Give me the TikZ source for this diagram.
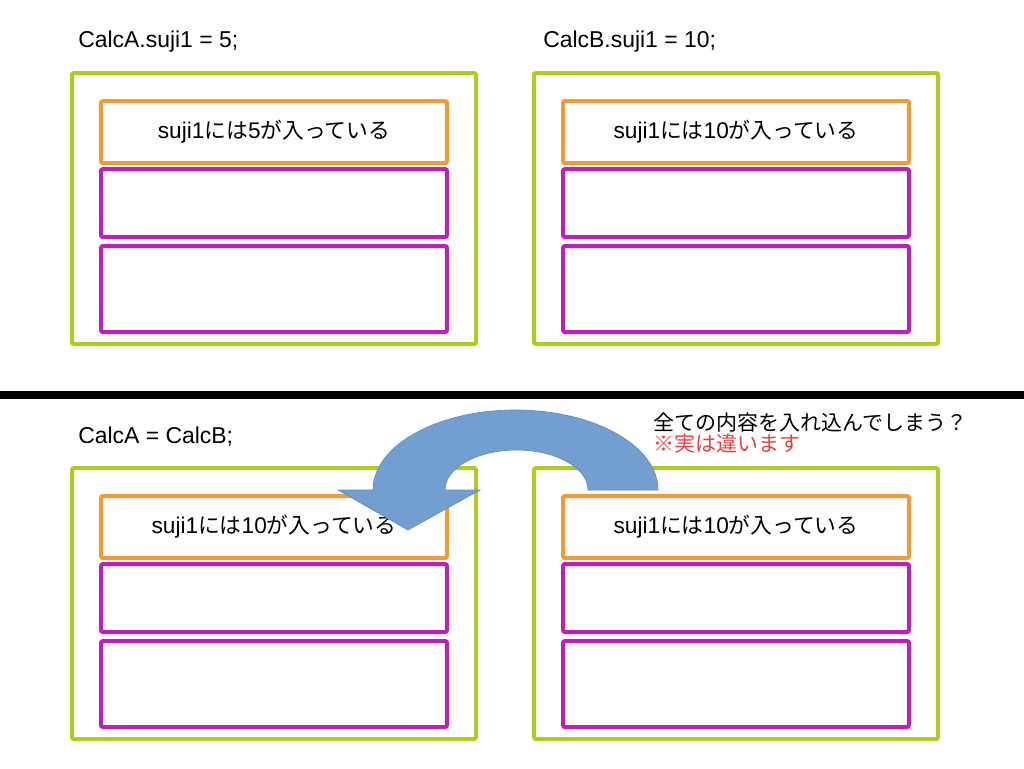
\documentclass[tikz,border=0pt]{standalone}
\usepackage{fontspec}
\setmainfont{Liberation Sans}
\newfontfamily\jp{Noto Sans CJK JP}[Scale=0.96]
\definecolor{gframe}{RGB}{178,202,34}
\definecolor{oframe}{RGB}{240,156,52}
\definecolor{mframe}{RGB}{190,30,190}
\definecolor{arrowfill}{RGB}{114,159,207}
\definecolor{arrowline}{RGB}{100,140,192}
\definecolor{notered}{RGB}{232,64,64}
\begin{document}
\begin{tikzpicture}[x=0.75pt,y=-0.75pt,
  gbox/.style={draw=gframe,line width=3pt,rounded corners=1.5pt,minimum width=303pt,inner sep=0pt},
  obox/.style={draw=oframe,line width=3pt,rounded corners=1.5pt,minimum width=259.5pt,minimum height=46.5pt,inner sep=0pt,font=\fontsize{17}{20}\selectfont},
  mbox/.style={draw=mframe,line width=3pt,rounded corners=1.5pt,minimum width=259.5pt,inner sep=0pt},
  lbl/.style={anchor=west,inner sep=0pt,font=\fontsize{17.2}{20}\selectfont}]
\useasboundingbox (0,0) rectangle (1024,768);
\fill[white] (0,0) rectangle (1024,768);
% panels
\foreach \n/\dx/\dy/\v in {1/0/0/5,2/462/0/10,3/0/395/10,4/462/395/10}{
  \node[gbox,minimum height=203.25pt] (g\n) at (274+\dx,208.5+\dy) {};
  \node[obox] (o\n) at (274+\dx,132+\dy) {\raisebox{-1.5pt}{suji1{\jp には}\v{\jp が入っている}}};
  \node[mbox,minimum height=51pt] (ma\n) at (274+\dx,203+\dy) {};
  \node[mbox,minimum height=64.5pt] (mb\n) at (274+\dx,289+\dy) {};
}
% separator
\coordinate (sepL) at (0,395);
\coordinate (sepR) at (1024,395);
\draw[line width=6pt,black] (sepL) -- (sepR);
% labels
\node[lbl] (la) at (78,42) {CalcA.suji1 = 5;};
\node[lbl] (lb) at (543,42) {CalcB.suji1 = 10;};
\node[lbl] (lc) at (78,437) {CalcA = CalcB;};
\node[anchor=west,inner sep=0pt,align=left,font=\fontsize{16.4}{16}\selectfont\jp] (note) at (653,433)
  {全ての内容を入れ込んでしまう？\\\textcolor{notered}{※実は違います}};
% curved arrow
\draw[fill=arrowfill,draw=arrowline,line width=0.5pt,line join=miter]
  (658,490) arc[start angle=0,end angle=-180,x radius=142.5,y radius=80]
  -- (338,490) -- (408,530) -- (480,490) -- (445,490)
  arc[start angle=-180,end angle=0,x radius=71.5,y radius=40]
  -- cycle;
\end{tikzpicture}
\end{document}
